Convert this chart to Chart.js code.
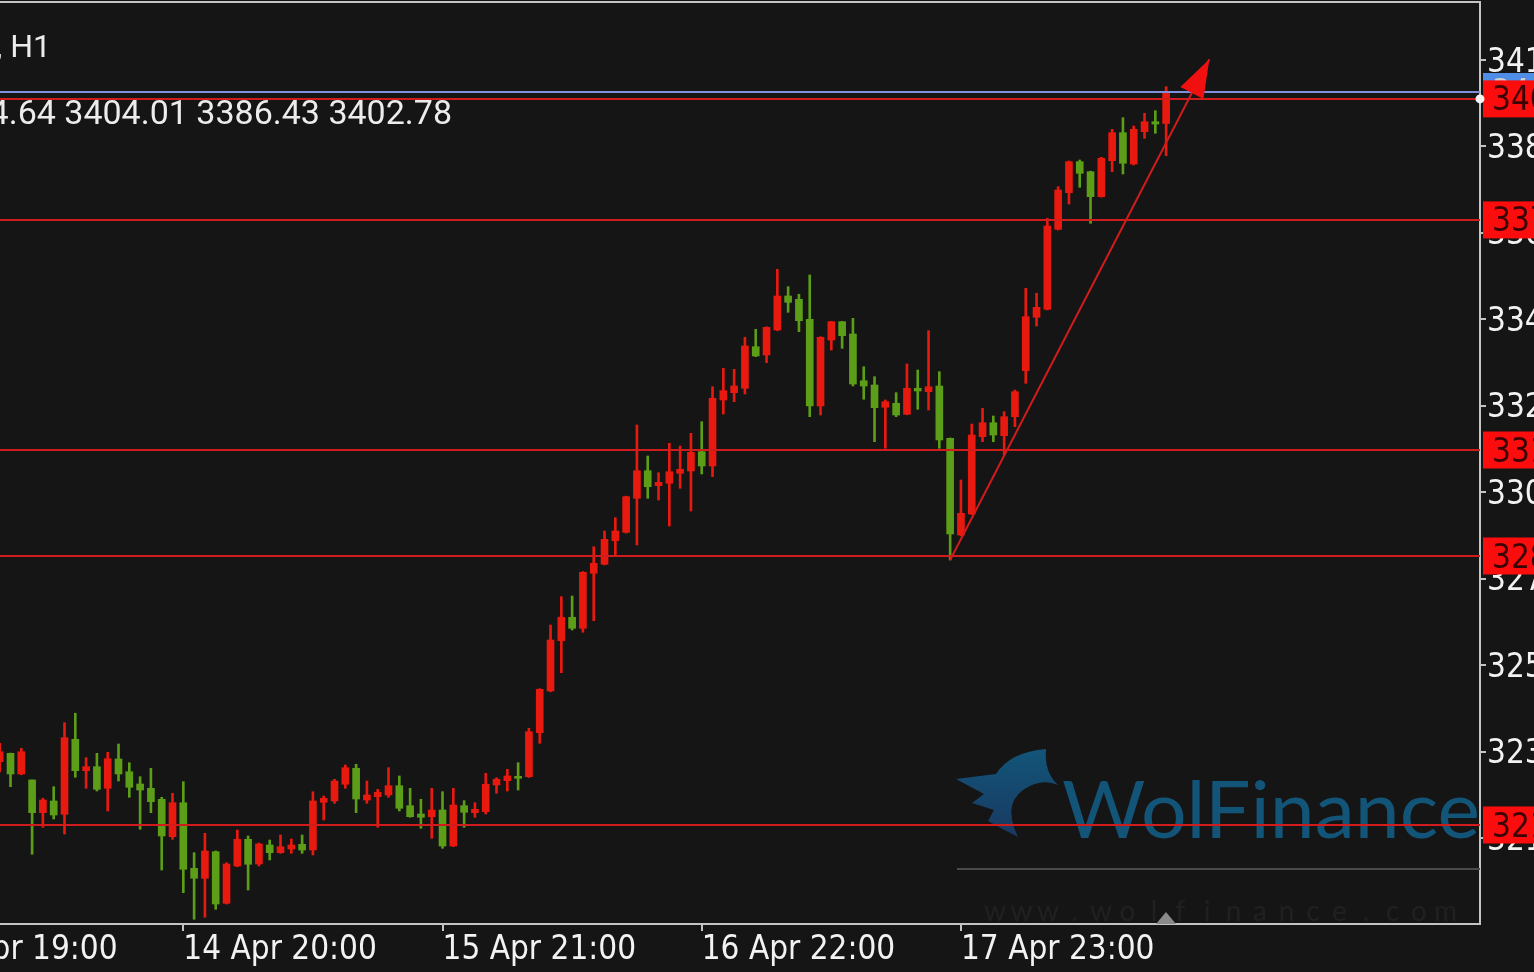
<!DOCTYPE html>
<html>
<head>
<meta charset="utf-8">
<script src="https://cdn.jsdelivr.net/npm/chart.js@4.4.1/dist/chart.umd.min.js"></script>
<style>
  html, body { margin: 0; padding: 0; background: #151515; overflow: hidden; width: 1534px; height: 972px; }
  #wrap { position: absolute; left: -100px; top: 0; width: 1694px; height: 972px; }
</style>
</head>
<body>
<div id="wrap"><canvas id="chart" width="1694" height="972"></canvas></div>
<script>
var firstBar = 7;
var open = [
  3232.22, 3234.35, 3229.09, 3227.56, 3219.24, 3222.22, 3218.83, 3237.92, 3229.93, 3230.95,
  3225.45, 3232.90, 3229.67, 3226.54, 3225.45, 3222.65, 3213.13, 3221.78, 3205.09, 3202.54,
  3209.31, 3196.18, 3205.67, 3212.47, 3206.18, 3211.02, 3209.06, 3210.00, 3211.20, 3209.74,
  3221.88, 3222.22, 3226.47, 3230.54, 3222.47, 3223.31, 3223.74, 3226.11, 3221.02, 3218.91,
  3218.22, 3219.92, 3210.76, 3221.02, 3219.24, 3219.49, 3226.29, 3227.38, 3228.40, 3228.40,
  3239.60, 3250.21, 3263.01, 3268.97, 3266.17, 3280.16, 3282.46, 3288.46, 3290.60, 3299.25,
  3306.28, 3302.46, 3303.07, 3305.62, 3306.20, 3311.11, 3307.47, 3324.27, 3326.13, 3327.25,
  3337.83, 3335.72, 3342.08, 3350.74, 3349.90, 3344.81, 3322.74, 3339.54, 3344.20, 3341.07,
  3329.18, 3328.09, 3322.41, 3323.43, 3320.63, 3327.25, 3326.38, 3327.83, 3314.52, 3289.91,
  3295.26, 3314.93, 3318.49, 3315.18, 3320.02, 3331.73, 3345.32, 3347.35, 3367.71, 3377.03,
  3384.92, 3382.37, 3376.01, 3385.17, 3392.30, 3384.33, 3392.55, 3395.10, 3394.64
];
var high = [
  3236.90, 3234.40, 3235.63, 3227.60, 3222.90, 3225.86, 3242.14, 3244.54, 3233.24, 3234.35,
  3234.61, 3236.72, 3231.96, 3228.40, 3230.54, 3223.16, 3224.18, 3227.13, 3209.06, 3213.99,
  3209.50, 3206.51, 3214.83, 3213.31, 3211.53, 3212.29, 3213.56, 3212.54, 3213.56, 3224.58,
  3223.49, 3227.74, 3231.38, 3231.56, 3227.31, 3225.19, 3230.69, 3228.58, 3225.45, 3222.65,
  3225.45, 3224.58, 3225.45, 3222.29, 3221.78, 3229.27, 3228.15, 3230.28, 3231.96, 3240.72,
  3250.80, 3267.01, 3274.21, 3274.39, 3280.60, 3286.93, 3290.93, 3294.32, 3299.80, 3317.91,
  3310.02, 3305.77, 3313.25, 3312.56, 3315.79, 3318.75, 3327.65, 3332.34, 3332.08, 3340.23,
  3342.26, 3342.90, 3357.53, 3353.11, 3351.17, 3356.08, 3340.38, 3344.30, 3344.30, 3345.06,
  3332.74, 3330.20, 3324.27, 3326.13, 3333.43, 3331.90, 3341.91, 3331.47, 3314.60, 3303.91,
  3318.16, 3322.16, 3320.20, 3321.29, 3326.81, 3352.70, 3351.43, 3370.51, 3378.56, 3385.10,
  3385.35, 3382.50, 3386.04, 3393.16, 3396.12, 3394.00, 3397.24, 3397.90, 3404.01
];
var low = [
  3229.60, 3225.86, 3228.90, 3208.65, 3215.52, 3217.63, 3213.82, 3228.25, 3225.45, 3224.76,
  3219.67, 3227.31, 3223.16, 3215.01, 3219.24, 3204.65, 3212.47, 3198.88, 3192.11, 3192.62,
  3194.65, 3196.00, 3205.50, 3199.56, 3205.67, 3207.20, 3208.90, 3208.90, 3208.90, 3208.47,
  3217.38, 3221.63, 3225.45, 3219.24, 3221.63, 3215.52, 3223.16, 3219.67, 3218.07, 3215.27,
  3212.72, 3210.18, 3210.60, 3215.52, 3218.07, 3218.91, 3224.18, 3224.76, 3225.01, 3228.20,
  3236.90, 3250.00, 3254.87, 3265.73, 3265.15, 3268.10, 3282.30, 3284.82, 3290.40, 3287.37,
  3299.25, 3298.82, 3292.20, 3301.80, 3296.02, 3305.44, 3304.75, 3320.71, 3323.84, 3325.80,
  3335.29, 3333.76, 3341.90, 3346.59, 3341.65, 3320.02, 3320.45, 3336.99, 3337.43, 3327.83,
  3324.45, 3313.66, 3311.98, 3320.02, 3320.50, 3321.90, 3321.72, 3311.98, 3283.55, 3289.70,
  3295.10, 3313.66, 3313.66, 3310.27, 3317.47, 3328.52, 3343.10, 3347.20, 3367.53, 3374.15,
  3378.40, 3369.24, 3375.90, 3382.37, 3381.79, 3384.08, 3390.87, 3392.15, 3386.43
];
var close = [
  3234.76, 3229.09, 3234.76, 3219.24, 3222.47, 3218.65, 3238.33, 3229.93, 3230.95, 3225.19,
  3232.98, 3229.09, 3225.70, 3225.01, 3222.04, 3213.31, 3221.78, 3204.83, 3202.54, 3209.49,
  3196.00, 3206.18, 3212.47, 3206.11, 3211.27, 3209.06, 3210.58, 3211.02, 3209.74, 3222.22,
  3222.90, 3227.31, 3230.69, 3222.72, 3223.74, 3224.43, 3226.11, 3220.36, 3218.22, 3218.07,
  3219.92, 3210.76, 3221.20, 3219.34, 3220.10, 3226.47, 3227.74, 3228.58, 3227.99, 3239.85,
  3250.64, 3263.19, 3268.97, 3266.17, 3280.42, 3282.71, 3288.82, 3290.93, 3299.66, 3306.28,
  3302.20, 3303.32, 3306.02, 3306.63, 3310.96, 3307.47, 3324.70, 3326.64, 3327.83, 3338.01,
  3335.47, 3342.77, 3350.74, 3349.13, 3344.45, 3322.74, 3340.23, 3344.20, 3340.63, 3328.34,
  3327.83, 3322.31, 3323.84, 3320.45, 3327.25, 3326.56, 3327.65, 3314.09, 3290.17, 3295.43,
  3315.36, 3318.49, 3315.36, 3320.02, 3326.38, 3345.47, 3347.86, 3368.55, 3377.71, 3384.92,
  3381.96, 3376.01, 3385.78, 3392.30, 3384.51, 3393.16, 3395.10, 3394.51, 3402.78
];

// axe du temps : une etiquette toutes les 24 barres
var xTickBars = [0, 24, 48, 72, 96];
var xTickLabels = ['13 Apr 19:00', '14 Apr 20:00', '15 Apr 21:00', '16 Apr 22:00', '17 Apr 23:00'];
// axe des prix
var yTicks = [3410.80, 3388.80, 3366.80, 3344.80, 3322.80, 3300.80, 3278.80, 3256.80, 3234.80, 3212.80];
// niveaux horizontaux traces par l'utilisateur
var levels = [3400.90, 3370.10, 3311.54, 3284.57, 3216.11];
// ligne de tendance (barre, prix)
var trendBars = [95, 119];
var trendPrices = [3283.55, 3411.00];

var symbol = 'XAUUSD, H1';
var UP = '#e8190f', DOWN = '#5c9e18', RED_LINE = '#d01c1c', AXIS = '#c4c4c4';
var OX = 100; // le canvas commence 100px a gauche de la page

var bars = open.map(function (o, i) { return firstBar + i; });
var colors = open.map(function (o, i) { return close[i] >= o ? UP : DOWN; });
var axisFamily = "'DejaVu Sans Condensed', 'Liberation Sans Narrow', Roboto, sans-serif";
var axisFont = { family: axisFamily, size: 33 };

function noPad(scale) {
  scale.paddingTop = 0; scale.paddingBottom = 0;
  scale.paddingLeft = 0; scale.paddingRight = 0;
}

var decor = {
  id: 'decor',
  beforeDatasetsDraw: function (chart) {
    var ctx = chart.ctx, a = chart.chartArea;
    ctx.save();
    ctx.beginPath(); ctx.rect(a.left, a.top, a.right - a.left, a.bottom - a.top); ctx.clip();
    ctx.translate(OX, 0);
    // logo WolFinance en filigrane
    var g = ctx.createLinearGradient(0, 750, 0, 840);
    g.addColorStop(0, 'rgba(18,96,138,0.85)');
    g.addColorStop(1, 'rgba(26,62,110,0.85)');
    ctx.fillStyle = g;
    ctx.beginPath();
    ctx.moveTo(1046, 749);
    ctx.quadraticCurveTo(1010, 752, 996, 774);
    ctx.lineTo(956, 779);
    ctx.lineTo(984, 794);
    ctx.lineTo(972, 803);
    ctx.lineTo(994, 810);
    ctx.lineTo(988, 821);
    ctx.quadraticCurveTo(1004, 830, 1018, 837);
    ctx.quadraticCurveTo(1000, 800, 1030, 786);
    ctx.quadraticCurveTo(1045, 779, 1058, 785);
    ctx.quadraticCurveTo(1044, 772, 1046, 749);
    ctx.closePath();
    ctx.fill();
    ctx.font = '80px Lato';
    var w = ctx.measureText('WolFinance').width;
    ctx.save();
    ctx.translate(1062, 838);
    ctx.scale(418 / w, 1);
    ctx.textBaseline = 'alphabetic';
    ctx.fillText('WolFinance', 0, 0);
    ctx.restore();
    // ligne grise et adresse du site
    ctx.strokeStyle = '#4a4a4a'; ctx.lineWidth = 2;
    ctx.beginPath(); ctx.moveTo(957, 869); ctx.lineTo(1490, 869); ctx.stroke();
    ctx.fillStyle = 'rgba(255,255,255,0.05)';
    ctx.font = '28px Lato';
    ctx.textAlign = 'center'; ctx.textBaseline = 'middle';
    var site = 'www.wolfinance.com';
    for (var i = 0; i < site.length; i++) ctx.fillText(site[i], 995 + i * 26.5, 912);
    ctx.restore();
  },
  afterDatasetsDraw: function (chart) {
    var ctx = chart.ctx, a = chart.chartArea;
    var xs = chart.scales.x, ys = chart.scales.y;
    ctx.save();
    ctx.beginPath(); ctx.rect(a.left, a.top, a.right - a.left, a.bottom - a.top); ctx.clip();
    ctx.lineWidth = 2;
    levels.forEach(function (p) {
      var y = Math.round(ys.getPixelForValue(p));
      ctx.strokeStyle = RED_LINE;
      ctx.beginPath(); ctx.moveTo(a.left, y); ctx.lineTo(a.right, y); ctx.stroke();
    });
    var bid = close[close.length - 1];
    var yb = Math.round(ys.getPixelForValue(bid));
    ctx.strokeStyle = '#7f8fdc';
    ctx.beginPath(); ctx.moveTo(a.left, yb); ctx.lineTo(a.right, yb); ctx.stroke();
    // pointe de fleche de la tendance
    var x0 = xs.getPixelForValue(trendBars[0]), y0 = ys.getPixelForValue(trendPrices[0]);
    var x1 = xs.getPixelForValue(trendBars[1]), y1 = ys.getPixelForValue(trendPrices[1]);
    var len = Math.hypot(x1 - x0, y1 - y0), dx = (x1 - x0) / len, dy = (y1 - y0) / len;
    var bx = x1 - dx * 38, by = y1 - dy * 38;
    ctx.fillStyle = '#f01010';
    ctx.beginPath();
    ctx.moveTo(x1, y1);
    ctx.lineTo(bx - dy * 13, by + dx * 13);
    ctx.lineTo(bx + dy * 13, by - dx * 13);
    ctx.closePath();
    ctx.fill();
    ctx.restore();
    // bord superieur du cadre
    ctx.save();
    ctx.strokeStyle = AXIS; ctx.lineWidth = 2;
    ctx.beginPath(); ctx.moveTo(a.left, a.top); ctx.lineTo(a.right, a.top); ctx.stroke();
    ctx.restore();
  },
  afterDraw: function (chart) {
    var ctx = chart.ctx, a = chart.chartArea, ys = chart.scales.y;
    ctx.save();
    ctx.textBaseline = 'middle'; ctx.textAlign = 'left';
    ctx.font = '33px ' + axisFamily;
    var bid = close[close.length - 1];
    var yb = ys.getPixelForValue(bid);
    ctx.fillStyle = '#4f8de6';
    ctx.fillRect(a.right + 3, yb - 18.5, 200, 37);
    ctx.fillStyle = '#d0d0d0';
    ctx.fillText(bid.toFixed(2), a.right + 12, yb + 3);
    levels.forEach(function (p) {
      var y = ys.getPixelForValue(p);
      ctx.fillStyle = '#fb0d0d';
      ctx.fillRect(a.right + 3, y - 18.5, 200, 37);
      ctx.fillStyle = '#3a0404';
      ctx.fillText(p.toFixed(2), a.right + 12, y + 3);
    });
    var yl = ys.getPixelForValue(levels[0]);
    ctx.fillStyle = '#f4f4f4';
    ctx.beginPath(); ctx.arc(a.right, yl, 4.5, 0, Math.PI * 2); ctx.fill();
    // repere de decalage du graphique
    ctx.fillStyle = '#8a8a8a';
    ctx.beginPath();
    ctx.moveTo(OX + 1166, 912); ctx.lineTo(OX + 1176, a.bottom); ctx.lineTo(OX + 1156, a.bottom);
    ctx.closePath(); ctx.fill();
    // titre et OHLC de la derniere bougie
    var n = close.length - 1;
    ctx.fillStyle = '#ececec';
    ctx.textAlign = 'right'; ctx.textBaseline = 'alphabetic';
    ctx.font = '32px Roboto';
    ctx.fillText(symbol, OX + 51, 57);
    ctx.font = '34px Roboto';
    ctx.fillText([open[n], high[n], low[n], close[n]].map(function (v) { return v.toFixed(2); }).join(' '), OX + 452, 124);
    ctx.restore();
  }
};

var ctx = document.getElementById('chart').getContext('2d');
var chart = new Chart(ctx, {
  type: 'bar',
  data: {
    datasets: [
      {
        label: 'corps',
        data: bars.map(function (x, i) { return { x: x, y: [open[i], close[i]] }; }),
        backgroundColor: colors,
        barThickness: 7,
        minBarLength: 2,
        grouped: false,
        order: 1
      },
      {
        label: 'meches',
        data: bars.map(function (x, i) { return { x: x, y: [low[i], high[i]] }; }),
        backgroundColor: colors,
        barThickness: 2,
        grouped: false,
        order: 2
      },
      {
        type: 'line',
        label: 'tendance',
        data: trendBars.map(function (b, i) { return { x: b, y: trendPrices[i] }; }),
        borderColor: RED_LINE,
        borderWidth: 2,
        pointRadius: 0,
        order: 0
      }
    ]
  },
  options: {
    responsive: false,
    animation: false,
    layout: { padding: { left: 20, top: 2, right: 0, bottom: 0 } },
    plugins: { legend: { display: false }, tooltip: { enabled: false } },
    scales: {
      x: {
        type: 'linear',
        offset: false,
        min: -0.38,
        max: 144.06,
        afterBuildTicks: function (scale) { scale.ticks = xTickBars.map(function (v) { return { value: v }; }); },
        afterFit: function (scale) { scale.height = 48; noPad(scale); },
        grid: { drawOnChartArea: false, color: AXIS, tickLength: 7, lineWidth: 2, offset: false },
        border: { color: AXIS, width: 2 },
        ticks: {
          autoSkip: false,
          maxRotation: 0,
          align: 'start',
          padding: 0,
          color: '#f2f2f2',
          font: axisFont,
          callback: function (v) { return xTickLabels[xTickBars.indexOf(v)]; }
        }
      },
      y: {
        position: 'right',
        min: 3190.91,
        max: 3425.56,
        afterBuildTicks: function (scale) { scale.ticks = yTicks.map(function (v) { return { value: v }; }); },
        afterFit: function (scale) { scale.width = 114; noPad(scale); },
        grid: { drawOnChartArea: false, color: AXIS, tickLength: 6, lineWidth: 2 },
        border: { color: AXIS, width: 2 },
        ticks: {
          padding: 1,
          labelOffset: 3,
          color: '#f2f2f2',
          font: axisFont,
          callback: function (v) { return v.toFixed(2); }
        }
      }
    }
  },
  plugins: [decor]
});
</script>
</body>
</html>
